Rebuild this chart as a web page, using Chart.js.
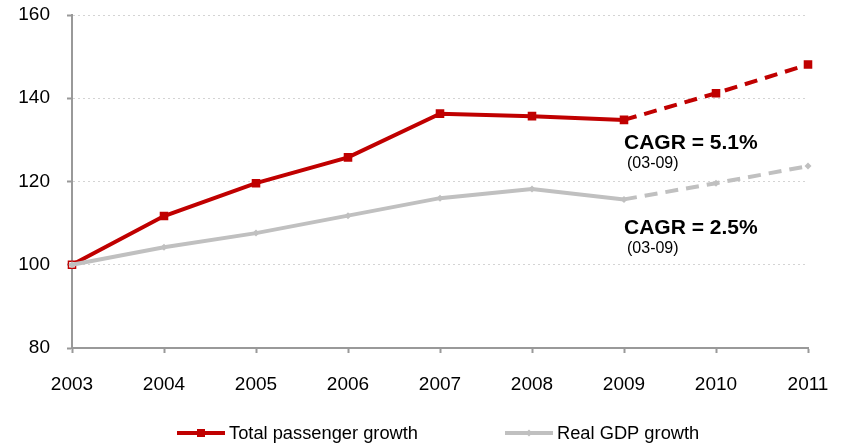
<!DOCTYPE html>
<html>
<head>
<meta charset="utf-8">
<script src="https://cdn.jsdelivr.net/npm/chart.js@4/dist/chart.umd.min.js"></script>
<style>
  html, body { margin: 0; padding: 0; background: #fff; }
  #wrap { width: 844px; height: 448px; }
</style>
</head>
<body>
<div id="wrap"><canvas id="c" width="844" height="448"></canvas></div>
<script>
const years = ['2003', '2004', '2005', '2006', '2007', '2008', '2009', '2010', '2011'];
const passengerGrowth = [100, 111.7, 119.6, 125.8, 136.3, 135.7, 134.8, 141.2, 148.1];
const gdpGrowth = [100, 104.2, 107.6, 111.8, 116.0, 118.2, 115.7, 119.6, 123.7];
const seriesNames = ['Total passenger growth', 'Real GDP growth'];
const yTicks = [80, 100, 120, 140, 160];
const cagrLabels = ['CAGR = 5.1%', 'CAGR = 2.5%'];
const cagrPeriod = '(03-09)';
const forecastStart = 6; // index of 2009, after which lines are dashed

const RED = '#c00000';
const GRAY = '#c0c0c0';
const FONT = '"Liberation Sans", Arial, sans-serif';

const dashSeg = (dash) => ({
  borderDash: ctx => ctx.p0DataIndex >= forecastStart ? dash : undefined
});

const annotationPlugin = {
  id: 'cagr',
  afterDatasetsDraw(chart) {
    const { ctx, scales: { x, y } } = chart;
    const x0 = x.getPixelForValue(forecastStart);
    ctx.save();
    ctx.fillStyle = '#000';
    ctx.textAlign = 'left';
    ctx.textBaseline = 'middle';
    const spots = [[129.2, 124.4], [108.8, 104.0]];
    cagrLabels.forEach((t, i) => {
      ctx.font = 'bold 21px ' + FONT;
      ctx.fillText(t, x0, y.getPixelForValue(spots[i][0]));
      ctx.font = '16px ' + FONT;
      ctx.fillText(cagrPeriod, x0 + 3, y.getPixelForValue(spots[i][1]));
    });
    ctx.restore();
  }
};

const legendPlugin = {
  id: 'customLegend',
  afterDraw(chart) {
    const { ctx } = chart;
    const items = [
      { x: 177, color: RED, style: 'rect', ds: 0 },
      { x: 505, color: GRAY, style: 'diamond', ds: 1 }
    ];
    const yc = 433;
    ctx.save();
    items.forEach(it => {
      ctx.strokeStyle = it.color;
      ctx.lineWidth = 4;
      ctx.beginPath();
      ctx.moveTo(it.x, yc);
      ctx.lineTo(it.x + 48, yc);
      ctx.stroke();
      ctx.fillStyle = it.color;
      const cx = it.x + 24;
      if (it.style === 'rect') {
        ctx.fillRect(cx - 4, yc - 4, 8, 8);
      } else {
        ctx.beginPath();
        ctx.moveTo(cx, yc - 3.5); ctx.lineTo(cx + 3.5, yc); ctx.lineTo(cx, yc + 3.5); ctx.lineTo(cx - 3.5, yc);
        ctx.closePath(); ctx.fill();
      }
      ctx.fillStyle = '#000';
      ctx.font = '18.3px ' + FONT;
      ctx.textAlign = 'left';
      ctx.textBaseline = 'middle';
      ctx.fillText(chart.data.datasets[it.ds].label, it.x + 52, yc + 1);
    });
    ctx.restore();
  }
};

new Chart(document.getElementById('c'), {
  type: 'line',
  data: {
    labels: years,
    datasets: [
      {
        label: seriesNames[0],
        data: passengerGrowth,
        borderColor: RED,
        backgroundColor: RED,
        borderWidth: 4,
        pointStyle: 'rect',
        pointRadius: 5,
        pointBorderWidth: 1.5,
        pointBorderColor: RED,
        pointBackgroundColor: passengerGrowth.map((v, i) => i === 0 ? '#fff' : RED),
        segment: dashSeg([13, 8]),
        tension: 0,
        order: 1
      },
      {
        label: seriesNames[1],
        data: gdpGrowth,
        borderColor: GRAY,
        backgroundColor: GRAY,
        borderWidth: 4,
        pointStyle: 'rectRot',
        pointRadius: 3.5,
        pointBorderWidth: 0,
        pointBackgroundColor: GRAY,
        segment: dashSeg([13, 8]),
        tension: 0,
        order: 0
      }
    ]
  },
  options: {
    responsive: false,
    animation: false,
    devicePixelRatio: 1,
    layout: { padding: { left: 0, right: 36, top: 15, bottom: 0 } },
    plugins: { legend: { display: false }, tooltip: { enabled: false } },
    scales: {
      x: {
        type: 'category',
        offset: false,
        afterFit: s => { s.height = 100; s.paddingLeft = 0; s.paddingRight = 0; },
        grid: { drawOnChartArea: false, drawTicks: true, tickLength: 5, tickColor: '#999', tickWidth: 2 },
        border: { color: '#999', width: 2 },
        ticks: { color: '#000', font: { family: FONT, size: 19 }, padding: 20, maxRotation: 0, autoSkip: false }
      },
      y: {
        min: 80,
        max: 160,
        afterFit: s => { s.width = 72; s.paddingTop = 0; s.paddingBottom = 0; },
        afterBuildTicks: s => { s.ticks = yTicks.map(v => ({ value: v })); },
        grid: { color: '#d4d4d4', lineWidth: 1, drawTicks: true, tickLength: 5, tickColor: '#999', tickWidth: 2 },
        border: { color: '#999', width: 2, dash: [2, 3] },
        ticks: { color: '#000', font: { family: FONT, size: 19 }, padding: 17 }
      }
    }
  },
  plugins: [annotationPlugin, legendPlugin]
});
</script>
</body>
</html>
